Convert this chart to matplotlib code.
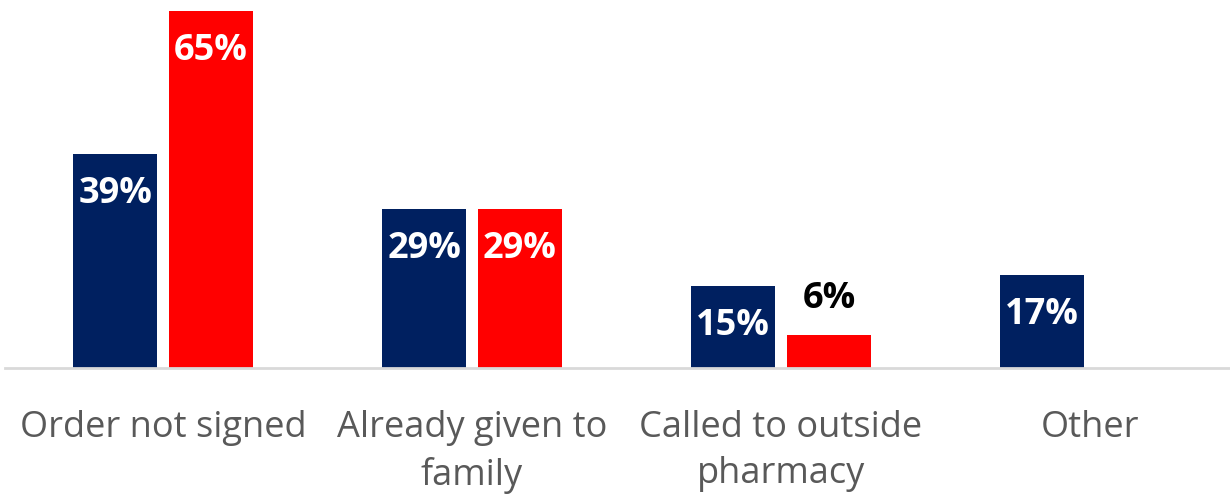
import numpy as np
import matplotlib.pyplot as plt

categories = ["Order not signed", "Already given to\nfamily", "Called to outside\npharmacy", "Other"]
series_a = [39, 29, 15, 17]
series_b = [65, 29, 6, None]

navy = "#002060"
red = "#FF0000"

fig = plt.figure(figsize=(12.3, 4.96), dpi=100)
ax = fig.add_axes([5 / 1230, 128 / 496, 1 - 5 / 1230, 368 / 496])

x = np.arange(len(categories))
width = 0.272
offset = 0.155
label_kw = dict(ha="center", va="center", fontsize=26, fontweight="bold", family="Open Sans")

# first series: navy bars with labels inside the top
ax.bar(x - offset, series_a, width, color=navy)
for xi, v in zip(x, series_a):
    ax.text(xi - offset, v - 7.3, f"{v}%", color="white", **label_kw)

# second series: red bars, small values get the label above
for xi, v in zip(x, series_b):
    if v is None:
        continue
    ax.bar(xi + offset, v, width, color=red)
    if v >= 10:
        ax.text(xi + offset, v - 7.3, f"{v}%", color="white", **label_kw)
    else:
        ax.text(xi + offset, v + 6.5, f"{v}%", color="black", **label_kw)

ax.set_xlim(-(163 - 5) / 309, (1230 - 163) / 309)
ax.set_ylim(0, 368 / 5.5)

ax.set_xticks(x)
ax.set_xticklabels(categories, fontsize=26, color="#595959", family="Open Sans",
                   linespacing=1.4)
ax.tick_params(axis="x", length=0, pad=30)
ax.set_yticks([])

for side in ["top", "right", "left"]:
    ax.spines[side].set_visible(False)
ax.spines["bottom"].set_color("#d9d9d9")
ax.spines["bottom"].set_linewidth(2)

fig.savefig("out.png", dpi=100)
